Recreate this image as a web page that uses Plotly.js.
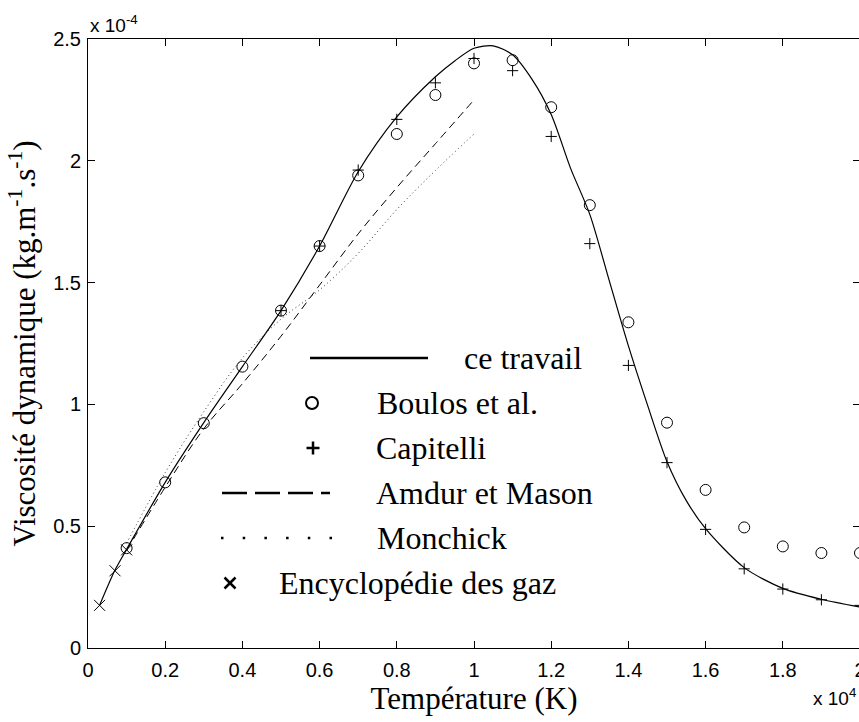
<!DOCTYPE html>
<html>
<head>
<meta charset="utf-8">
<script src="https://cdn.plot.ly/plotly-3.0.1.min.js"></script>
<style>
html,body{margin:0;padding:0;overflow:hidden;background:#fff;}
#chart{width:860px;height:722px;}
</style>
</head>
<body>
<div id="chart"></div>
<script>
// Temperature in units of 1e4 K, viscosity in units of 1e-4 kg.m-1.s-1
const T_travail  = [0.03,0.07,0.1,0.2,0.3,0.4,0.5,0.6,0.7,0.8,0.9,0.95,1.0,1.05,1.1,1.15,1.2,1.25,1.3,1.35,1.4,1.45,1.5,1.55,1.6,1.7,1.8,1.9,2.0];
const mu_travail = [0.175,0.32,0.405,0.68,0.925,1.155,1.385,1.65,1.955,2.18,2.345,2.41,2.462,2.472,2.435,2.335,2.19,1.97,1.78,1.51,1.24,0.995,0.765,0.605,0.49,0.33,0.245,0.20,0.168];

const T_boulos  = [0.1,0.2,0.3,0.4,0.5,0.6,0.7,0.8,0.9,1.0,1.1,1.2,1.3,1.4,1.5,1.6,1.7,1.8,1.9,2.0];
const mu_boulos = [0.41,0.68,0.923,1.155,1.385,1.65,1.94,2.11,2.27,2.40,2.413,2.22,1.818,1.337,0.925,0.649,0.495,0.417,0.39,0.39];

const T_capitelli  = [0.5,0.6,0.7,0.8,0.9,1.0,1.1,1.2,1.3,1.4,1.5,1.6,1.7,1.8,1.9,2.0];
const mu_capitelli = [1.385,1.65,1.962,2.17,2.32,2.42,2.37,2.10,1.66,1.16,0.761,0.487,0.325,0.242,0.198,0.175];

const T_amdur  = [0.1,0.2,0.3,0.4,0.5,0.6,0.7,0.8,0.9,1.0];
const mu_amdur = [0.40,0.66,0.90,1.085,1.28,1.49,1.70,1.89,2.07,2.25];

const T_monchick  = [0.1,0.2,0.3,0.4,0.5,0.6,0.7,0.8,0.9,1.0];
const mu_monchick = [0.43,0.72,0.97,1.19,1.35,1.47,1.62,1.80,1.96,2.11];

const T_encyclo  = [0.03,0.07,0.1];
const mu_encyclo = [0.175,0.317,0.403];

const xTicks = [0,0.2,0.4,0.6,0.8,1,1.2,1.4,1.6,1.8,2];
const xTickLabels = ['0','0.2','0.4','0.6','0.8','1','1.2','1.4','1.6','1.8','2'];
const yTicks = [0,0.5,1,1.5,2,2.5];
const yTickLabels = ['0','0.5','1','1.5','2','2.5'];

const seriesNames = ['ce travail','Boulos et al.','Capitelli','Amdur et Mason','Monchick','Encyclopédie des gaz'];

const serif = 'Liberation Serif, Times New Roman, serif';
const sans = 'Liberation Sans, Arial, sans-serif';

const traces = [
  {x:T_travail, y:mu_travail, name:seriesNames[0], mode:'lines', line:{color:'#000',width:1.2,shape:'spline',smoothing:0.8}},
  {x:T_amdur, y:mu_amdur, name:seriesNames[3], mode:'lines', line:{color:'#000',width:1,dash:'8px,5px',shape:'spline'}},
  {x:T_monchick, y:mu_monchick, name:seriesNames[4], mode:'lines', line:{color:'#333',width:1,dash:'1px,3px',shape:'spline'}},
  {x:T_boulos, y:mu_boulos, name:seriesNames[1], mode:'markers', marker:{symbol:'circle-open',size:11,color:'#000',line:{width:1,color:'#000'}}},
  {x:T_capitelli, y:mu_capitelli, name:seriesNames[2], mode:'markers', marker:{symbol:'cross-thin-open',size:8,color:'#000',line:{width:1,color:'#000'}}},
  {x:T_encyclo, y:mu_encyclo, name:seriesNames[5], mode:'markers', marker:{symbol:'x-thin-open',size:11,color:'#000',line:{width:1,color:'#000'}}}
];

// plot area geometry (pixels) for placing the hand-drawn legend
const L = 88, W = 772, T = 39, H = 609;
const px = v => (v - L) / W;
const py = v => (T + H - v) / H;
const rows = [358, 403, 448, 493, 538, 583];

const shapes = [
  {type:'line', xref:'paper', yref:'paper', x0:px(310), x1:px(428), y0:py(rows[0]), y1:py(rows[0]), line:{color:'#000',width:2.5}},
  {type:'circle', xref:'paper', yref:'paper', x0:px(306), x1:px(318), y0:py(rows[1]+6), y1:py(rows[1]-6), line:{color:'#000',width:2}},
  {type:'line', xref:'paper', yref:'paper', x0:px(306.5), x1:px(319.5), y0:py(rows[2]), y1:py(rows[2]), line:{color:'#000',width:2.5}},
  {type:'line', xref:'paper', yref:'paper', x0:px(313), x1:px(313), y0:py(rows[2]-6.5), y1:py(rows[2]+6.5), line:{color:'#000',width:2.5}},
  {type:'line', xref:'paper', yref:'paper', x0:px(222), x1:px(330), y0:py(rows[3]), y1:py(rows[3]), line:{color:'#000',width:2.5,dash:'25px,8px'}},
  {type:'line', xref:'paper', yref:'paper', x0:px(221), x1:px(332), y0:py(rows[4]), y1:py(rows[4]), line:{color:'#000',width:2.5,dash:'2.5px,19.2px'}},
  {type:'line', xref:'paper', yref:'paper', x0:px(224.5), x1:px(235.5), y0:py(rows[5]-5.5), y1:py(rows[5]+5.5), line:{color:'#000',width:2.5}},
  {type:'line', xref:'paper', yref:'paper', x0:px(224.5), x1:px(235.5), y0:py(rows[5]+5.5), y1:py(rows[5]-5.5), line:{color:'#000',width:2.5}}
];

const textX = [462, 375, 374, 374, 375, 277];
const annotations = seriesNames.map((n,i) => ({
  text:n, xref:'paper', yref:'paper', x:px(textX[i]), y:py(rows[i]), xanchor:'left', yanchor:'middle',
  showarrow:false, font:{family:serif, size:32, color:'#000'}
}));
annotations.push({text:'x 10<sup>-4</sup>', xref:'paper', yref:'paper', x:0, y:1, xanchor:'left', yanchor:'bottom', yshift:1, showarrow:false, font:{family:sans,size:19,color:'#000'}});
annotations.push({text:'x 10<sup>4</sup>', xref:'paper', yref:'paper', x:px(811), y:py(697), xanchor:'left', yanchor:'middle', showarrow:false, font:{family:sans,size:19,color:'#000'}});

const axisCommon = {
  showline:true, linecolor:'#000', linewidth:1, mirror:'ticks', ticks:'inside', ticklen:7,
  tickcolor:'#000', tickwidth:1, showgrid:false, zeroline:false, ticklabeloverflow:'allow',
  tickfont:{family:sans, size:20, color:'#000'}
};

const layout = {
  width:860, height:722,
  margin:{l:L, r:0, t:T, b:722-T-H},
  paper_bgcolor:'#fff', plot_bgcolor:'#fff',
  showlegend:false,
  xaxis: Object.assign({}, axisCommon, {range:[0,2], tickvals:xTicks, ticktext:xTickLabels, ticklabelstandoff:4,
    title:{text:'Température (K)', font:{family:serif,size:31,color:'#000'}, standoff:6}}),
  yaxis: Object.assign({}, axisCommon, {range:[0,2.5], tickvals:yTicks, ticktext:yTickLabels, ticklabelstandoff:2,
    title:{text:'Viscosité dynamique (kg.m<sup>-1</sup>.s<sup>-1</sup>)', font:{family:serif,size:31,color:'#000'}, standoff:8}}),
  shapes:shapes,
  annotations:annotations
};

Plotly.newPlot('chart', traces, layout, {displayModeBar:false, staticPlot:true});
</script>
</body>
</html>
